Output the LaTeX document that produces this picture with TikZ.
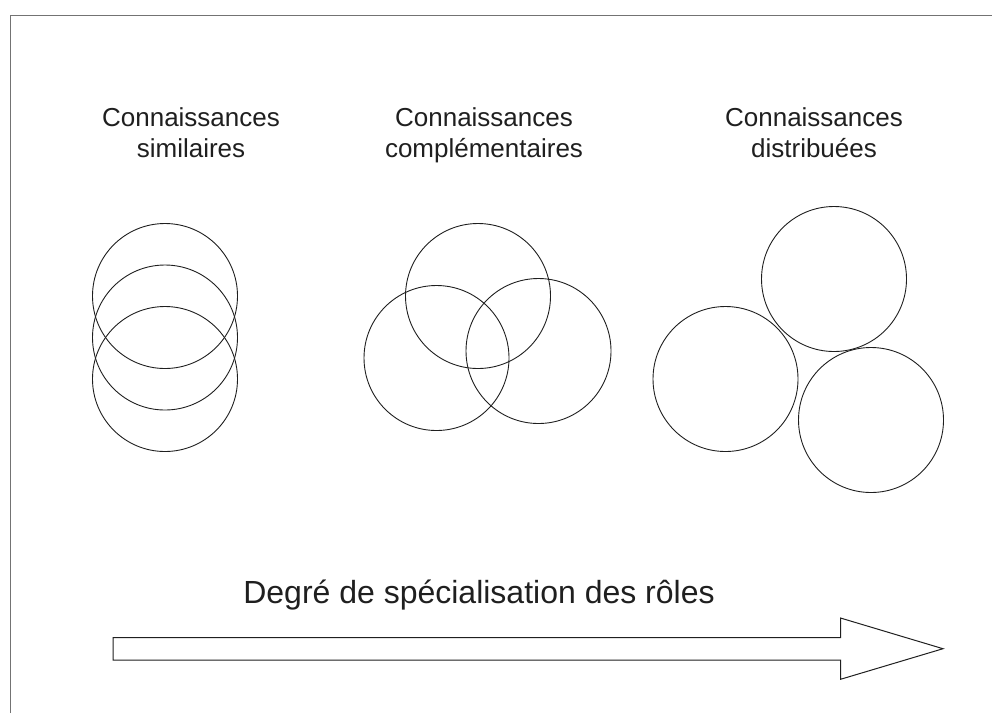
\documentclass[tikz,border=0pt]{standalone}
\usepackage{fontspec}
\setmainfont{Liberation Sans}
\begin{document}
\begin{tikzpicture}[x=1pt,y=-1pt,
  ring/.style={circle,draw=black!88,line width=0.9pt,minimum size=145pt,inner sep=0pt},
  lab/.style={align=center,inner sep=0pt,text=black!88,font=\fontsize{26}{31}\selectfont},
  frameline/.style={draw=black!55,line width=1pt}]
\useasboundingbox (0,0) rectangle (992,713);
\coordinate (ftl) at (10,15);
\coordinate (fr) at (992,15);
\coordinate (fb) at (10,713);
\draw[frameline] (fb) -- (ftl) -- (fr);
% labels
\node[lab,anchor=north] (l1) at (191,107) {Connaissances\\similaires};
\node[lab,anchor=north] (l2) at (484,107) {Connaissances\\complémentaires};
\node[lab,anchor=north] (l3) at (814,107) {Connaissances\\distribuées};
% similar
\node[ring] (s1) at (165,296) {};
\node[ring] (s2) at (165,337.5) {};
\node[ring] (s3) at (165,379) {};
% complementary
\node[ring] (c1) at (478,296) {};
\node[ring] (c2) at (436.5,358) {};
\node[ring] (c3) at (538.5,351) {};
% distributed
\node[ring] (d1) at (834,279) {};
\node[ring] (d2) at (725.5,379) {};
\node[ring] (d3) at (871,420) {};
% axis
\node[anchor=base,inner sep=0pt,text=black!88,font=\fontsize{32}{38}\selectfont] (ax) at (479,603) {Degré de spécialisation des rôles};
\draw[draw=black!88,line width=1pt,line join=miter]
  (113,637.5) -- (840.5,637.5) -- (840.5,618) -- (943,648.7) -- (840.5,679.3) -- (840.5,660) -- (113,660) -- cycle;
\end{tikzpicture}
\end{document}
